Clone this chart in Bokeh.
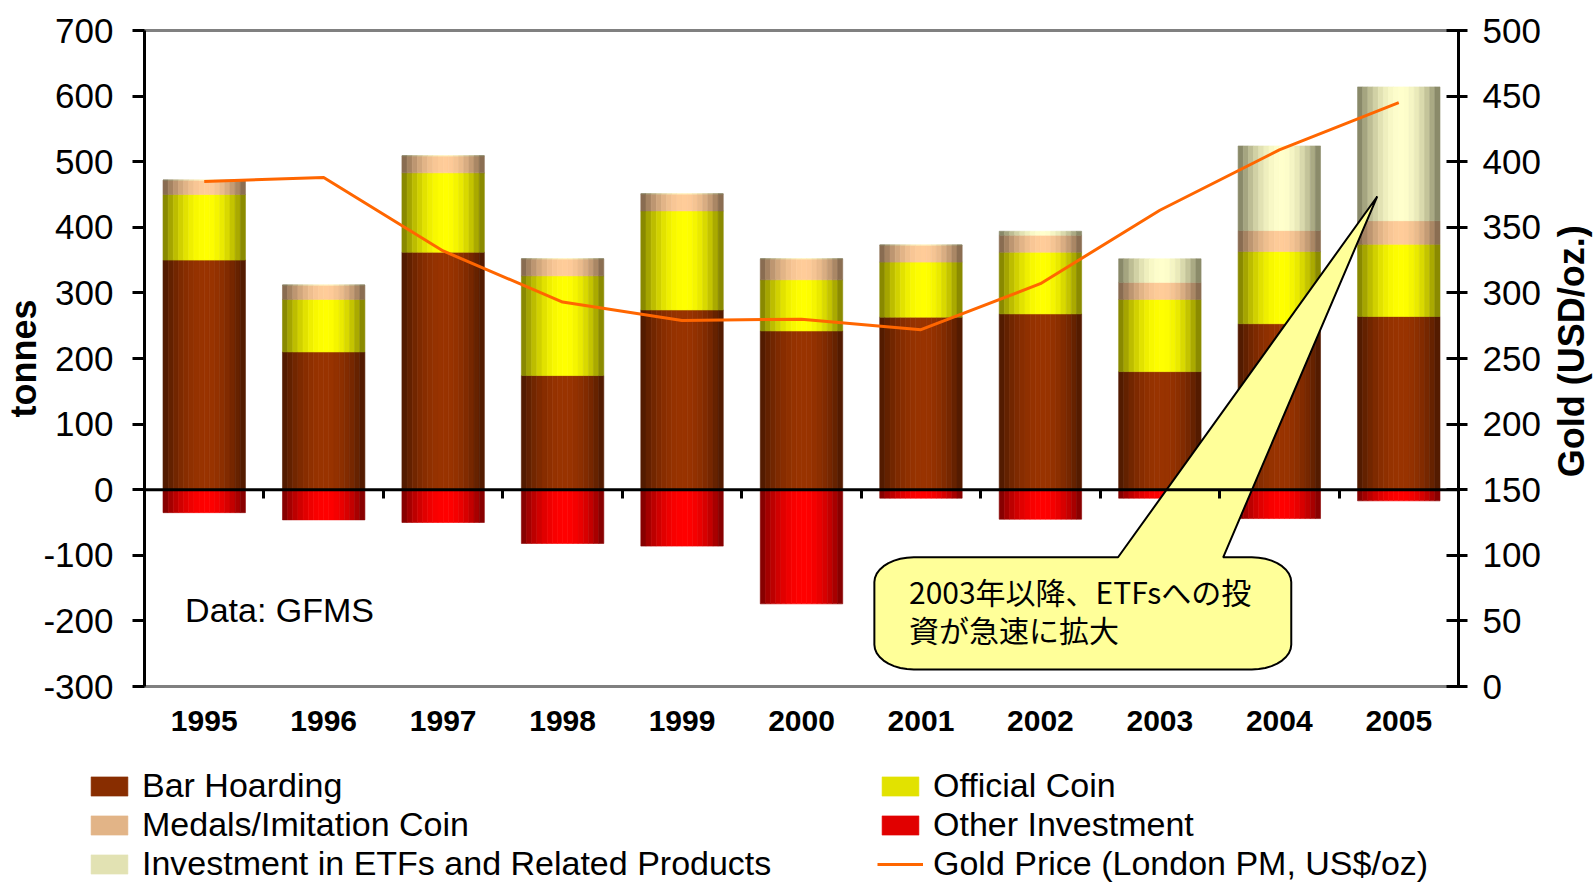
import numpy as np
from bokeh.plotting import figure
from bokeh.layouts import row
from bokeh.models import (Range1d, LinearAxis, FixedTicker, Span, Label, Legend,
                          LegendItem, ColumnDataSource)
from bokeh.embed import file_html
from bokeh.resources import INLINE

# ---------------- data ----------------
years = ["1995", "1996", "1997", "1998", "1999", "2000", "2001", "2002", "2003", "2004", "2005"]
bar_hoarding = [350, 210, 362, 174, 274, 242, 263, 268, 180, 253, 264]
official_coin = [100, 80, 121, 152, 151, 78, 84, 94, 110, 110, 110]
medals_imitation = [22, 22, 26, 26, 26, 32, 26, 26, 26, 32, 36]
etf_investment = [0, 0, 0, 0, 0, 0, 0, 6, 36, 129, 204]
other_investment = [-35, -46, -50, -82, -86, -174, -13, -45, -13, -44, -17]
gold_price = [385, 388, 332, 293, 279, 280, 272, 307, 363, 409, 445]

left_ticks = list(range(-300, 701, 100))
right_ticks = list(range(0, 501, 50))

callout_lines = ["2003年以降、ETFsへの投", "資が急速に拡大"]
source_note = "Data: GFMS"
right_title = "Gold (USD/oz.)"

FONT = "Liberation Sans"
n = len(years)
centers = np.arange(n) + 0.5

W = 1594
TITLE_W = 46
MAIN_H = 755
LEG_H = 128

p = figure(width=W - TITLE_W, height=MAIN_H, x_range=Range1d(0, n), y_range=Range1d(-300, 700),
           output_backend="svg", toolbar_location=None, x_axis_type=None, y_axis_type=None,
           min_border_left=144, min_border_right=W - TITLE_W - 1458, min_border_top=30,
           min_border_bottom=MAIN_H - 686,
           background_fill_color="white", border_fill_color="white")
p.extra_y_ranges = {"price": Range1d(0, 500)}
p.xgrid.visible = False
p.ygrid.visible = False
p.outline_line_color = "#808080"
p.outline_line_width = 3

# ---------------- axes ----------------
left = LinearAxis(ticker=FixedTicker(ticks=left_ticks), axis_label="tonnes",
                  major_label_overrides={t: str(t) for t in left_ticks})
right = LinearAxis(y_range_name="price", ticker=FixedTicker(ticks=right_ticks))
for ax in (left, right):
    ax.axis_line_width = 3
    ax.axis_line_color = "black"
    ax.major_tick_line_width = 3
    ax.major_tick_line_color = "black"
    ax.minor_tick_line_color = None
    ax.major_label_text_font = FONT
    ax.major_label_text_font_size = "35px"
    ax.major_label_text_color = "black"
    ax.axis_label_text_font = FONT
    ax.axis_label_text_font_size = "36px"
    ax.axis_label_text_font_style = "bold"
    ax.axis_label_text_color = "black"
left.major_tick_out = 12
left.major_tick_in = 0
left.major_label_standoff = 19
left.axis_label_standoff = -4
right.major_tick_out = 9
right.major_tick_in = 12
right.major_label_standoff = 15
p.add_layout(left, "left")
p.add_layout(right, "right")

year_axis = LinearAxis(ticker=FixedTicker(ticks=list(centers)),
                       major_label_overrides={float(c): y for c, y in zip(centers, years)})
year_axis.axis_line_color = None
year_axis.major_tick_line_color = None
year_axis.minor_tick_line_color = None
year_axis.major_label_standoff = 18
year_axis.major_label_text_font = FONT
year_axis.major_label_text_font_size = "30px"
year_axis.major_label_text_font_style = "bold"
year_axis.major_label_text_color = "black"
p.add_layout(year_axis, "below")

boundaries = list(range(1, n))
zero_axis = LinearAxis(fixed_location=0, ticker=FixedTicker(ticks=boundaries),
                       major_label_overrides={b: "" for b in boundaries})
zero_axis.axis_line_color = None
zero_axis.major_tick_out = 9
zero_axis.major_tick_in = 0
zero_axis.major_tick_line_width = 3
zero_axis.major_tick_line_color = "black"
zero_axis.minor_tick_line_color = None
zero_axis.major_label_standoff = 0
zero_axis.major_label_text_font_size = "1px"
p.add_layout(zero_axis, "below")

# ---------------- shaded (cylinder-like) stacked bars ----------------
N = 16
bw = 0.69
u = (np.arange(N) + 0.5) / N
offsets = (u - 0.5) * bw
peak = 0.53
d = np.where(u < peak, (u - peak) / peak, (u - peak) / (1 - peak))
shade = np.clip(1 - d ** 2, 0, 1)


def hex2rgb(h):
    h = h.lstrip("#")
    return np.array([int(h[i:i + 2], 16) for i in (0, 2, 4)], dtype=float)


def strip_colors(edge, center):
    e, c = hex2rgb(edge), hex2rgb(center)
    cols = []
    for f in shade:
        r, g, b = (e + (c - e) * f).round().astype(int)
        cols.append("#%02x%02x%02x" % (r, g, b))
    return cols


bh = np.array(bar_hoarding, float)
oc = np.array(official_coin, float)
md = np.array(medals_imitation, float)
et = np.array(etf_investment, float)
ot = np.array(other_investment, float)

series = [
    ("Bar Hoarding", np.zeros(n), bh, "#4a1800", "#993300"),
    ("Official Coin", bh, bh + oc, "#7a7a00", "#ffff00"),
    ("Medals/Imitation Coin", bh + oc, bh + oc + md, "#7a6048", "#ffcc99"),
    ("Other Investment", ot, np.zeros(n), "#780000", "#ff0000"),
    ("Investment in ETFs and Related Products", bh + oc + md, bh + oc + md + et, "#7a7a5c", "#ffffcc"),
]

sources = {}
for name, bot, top, edge, center in series:
    cols = strip_colors(edge, center)
    src = ColumnDataSource(dict(
        x=np.repeat(centers, N) + np.tile(offsets, n),
        bottom=np.repeat(bot, N),
        top=np.repeat(top, N),
        color=cols * n,
    ))
    sources[name] = src
    p.vbar(x="x", width=bw / N, bottom="bottom", top="top", source=src,
           fill_color="color", line_color="color", line_width=0.6)

p.add_layout(Span(location=0, dimension="width", line_color="black", line_width=3))

gold_src = ColumnDataSource(dict(x=centers, price=gold_price))
p.line(x="x", y="price", source=gold_src, y_range_name="price", line_color="#ff6600", line_width=3)

# ---------------- callout ----------------
cx0, cx1, cy0, cy1 = 6.11, 9.60, -274, -103
rx, ry = 0.33, 38
base_l, base_r = 8.15, 9.03
tip_x, tip_y = 10.32, 447


def arc(cx, cy, a0, a1, k=10):
    t = np.linspace(a0, a1, k)
    return list(cx + rx * np.cos(t)), list(cy + ry * np.sin(t))


xs, ys = [cx0 + rx, base_l, tip_x, base_r, cx1 - rx], [cy1, cy1, tip_y, cy1, cy1]
ax_, ay_ = arc(cx1 - rx, cy1 - ry, np.pi / 2, 0); xs += ax_; ys += ay_
ax_, ay_ = arc(cx1 - rx, cy0 + ry, 0, -np.pi / 2); xs += ax_; ys += ay_
ax_, ay_ = arc(cx0 + rx, cy0 + ry, -np.pi / 2, -np.pi); xs += ax_; ys += ay_
ax_, ay_ = arc(cx0 + rx, cy1 - ry, np.pi, np.pi / 2); xs += ax_; ys += ay_
p.patch(xs, ys, fill_color="#ffff99", line_color="black", line_width=2)

for line_text, ly in zip(callout_lines, [-155, -213]):
    p.add_layout(Label(x=6.40, y=ly, text=line_text, text_font="Noto Sans CJK JP",
                       text_font_size="30px", text_baseline="middle", text_color="black"))

p.add_layout(Label(x=0.34, y=-184, text=source_note, text_font=FONT, text_font_size="34px",
                   text_baseline="middle", text_color="black"))

# ---------------- right axis title (narrow strip, reads bottom-to-top) ----------------
tf = figure(width=TITLE_W, height=MAIN_H, x_range=Range1d(0, TITLE_W), y_range=p.y_range,
            output_backend="svg", toolbar_location=None, x_axis_type=None, y_axis_type=None,
            min_border=0, min_border_left=0, min_border_right=0,
            min_border_top=30, min_border_bottom=MAIN_H - 686, outline_line_color=None,
            background_fill_color="white", border_fill_color="white")
tf.xgrid.visible = False
tf.ygrid.visible = False
tf.add_layout(Label(x=23, y=211, text=right_title, angle=np.pi / 2, text_align="center",
                    text_baseline="middle", text_font=FONT, text_font_size="36px",
                    text_font_style="bold", text_color="black"))

# ---------------- legend (separate strip below the chart) ----------------
lg = figure(width=W, height=LEG_H, x_range=Range1d(-10000, -9999), y_range=Range1d(-10000, -9999),
            output_backend="svg", toolbar_location=None, x_axis_type=None, y_axis_type=None,
            min_border=0, min_border_left=0, min_border_right=0, min_border_top=0,
            min_border_bottom=0, outline_line_color=None,
            background_fill_color="white", border_fill_color="white")
lg.xgrid.visible = False
lg.ygrid.visible = False

leg_r = {}
for name, *_ in series:
    leg_r[name] = lg.vbar(x="x", width=bw / N, bottom="bottom", top="top", source=sources[name],
                          fill_color="color", line_color="color", line_width=0.6)
leg_gold = lg.line(x="x", y="price", source=gold_src, line_color="#ff6600", line_width=3)

k = 4
order = ["Bar Hoarding", "Medals/Imitation Coin", "Investment in ETFs and Related Products",
         "Official Coin", "Other Investment"]
items = [LegendItem(label=nm, renderers=[leg_r[nm]], index=k) for nm in order]
items.append(LegendItem(label="Gold Price (London PM, US$/oz)", renderers=[leg_gold]))

legend = Legend(items=items, location=(86, 0), ncols=2, glyph_width=46, glyph_height=24,
                label_standoff=10, label_text_font=FONT, label_text_font_size="34px",
                label_text_color="black",
                label_width=735, padding=0, margin=0, spacing=0,
                border_line_color=None, background_fill_alpha=0)
lg.add_layout(legend, "center")

top_row = row(p, tf, spacing=0)
open("out.html", "w").write(file_html([top_row, lg], INLINE))
